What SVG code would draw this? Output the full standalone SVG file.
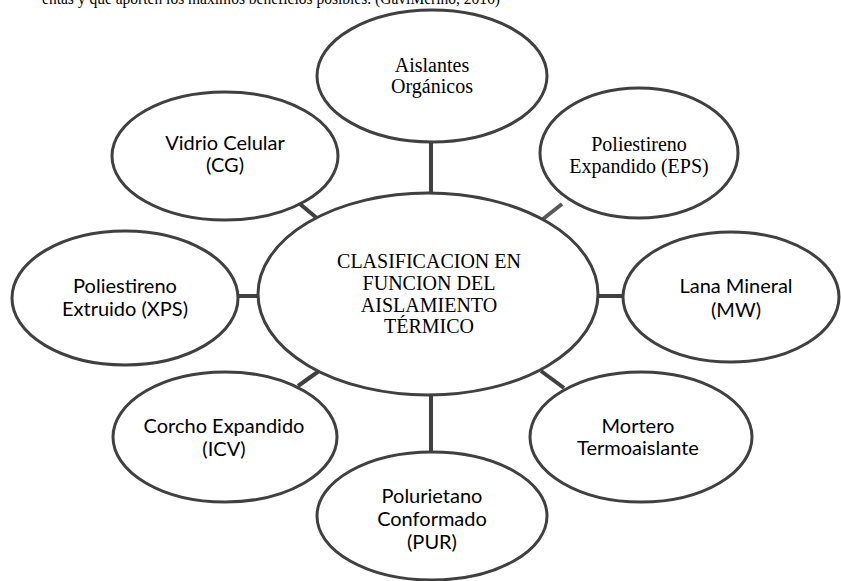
<svg xmlns="http://www.w3.org/2000/svg" width="841" height="581" viewBox="0 0 841 581">
<style>
.n{fill:#fff;stroke:#404040;stroke-width:3}
.c{stroke:#404040;stroke-width:4;fill:none}
.serif{font-family:"Liberation Serif","Times New Roman",serif;font-size:20px;fill:#000;text-anchor:middle}
.sans{font-family:Lato,"Liberation Sans",sans-serif;font-size:20px;fill:#000;text-anchor:middle}
</style>
<rect width="841" height="581" fill="#fff"/>
<text x="42" y="4" font-family="Liberation Serif, serif" font-size="16" textLength="458" lengthAdjust="spacingAndGlyphs">entas y que aporten los máximos beneficios posibles. (GaviMerino, 2016)</text>
<g id="connectors">
<line class="c" x1="431" y1="140" x2="431" y2="195"/>
<line class="c" x1="300" y1="204" x2="318" y2="219"/>
<line class="c" x1="562" y1="204" x2="543" y2="219" style="stroke:#5a5a5a"/>
<line class="c" x1="236" y1="296" x2="260" y2="296"/>
<line class="c" x1="596" y1="296" x2="625" y2="296"/>
<line class="c" x1="298" y1="386" x2="319" y2="371"/>
<line class="c" x1="541" y1="371" x2="564" y2="388"/>
<line class="c" x1="431" y1="393" x2="431" y2="454"/>
</g>
<g id="center">
<ellipse class="n" cx="428" cy="294" rx="170" ry="101"/>
<text class="serif"><tspan x="429" y="268">CLASIFICACION EN</tspan><tspan x="429" y="290">FUNCION DEL</tspan><tspan x="429" y="312">AISLAMIENTO</tspan><tspan x="429" y="333">TÉRMICO</tspan></text>
</g>
<g id="aislantes">
<ellipse class="n" cx="432" cy="76" rx="115" ry="66"/>
<text class="serif"><tspan x="432" y="72">Aislantes</tspan><tspan x="432" y="93">Orgánicos</tspan></text>
</g>
<g id="vidrio">
<ellipse class="n" cx="225" cy="156" rx="113" ry="64"/>
<text class="sans"><tspan x="225" y="150">Vidrio Celular</tspan><tspan x="225" y="172">(CG)</tspan></text>
</g>
<g id="eps">
<ellipse class="n" cx="639" cy="153" rx="99" ry="65"/>
<text class="serif"><tspan x="639" y="151">Poliestireno</tspan><tspan x="639" y="173">Expandido (EPS)</tspan></text>
</g>
<g id="xps">
<ellipse class="n" cx="125" cy="298" rx="113" ry="67"/>
<text class="sans"><tspan x="125" y="293">Poliestireno</tspan><tspan x="125" y="316">Extruido (XPS)</tspan></text>
</g>
<g id="lana">
<ellipse class="n" cx="731" cy="297" rx="108" ry="65"/>
<text class="sans"><tspan x="736" y="293">Lana Mineral</tspan><tspan x="736" y="317">(MW)</tspan></text>
</g>
<g id="corcho">
<ellipse class="n" cx="225" cy="437" rx="112" ry="65"/>
<text class="sans"><tspan x="224" y="433">Corcho Expandido</tspan><tspan x="224" y="456">(ICV)</tspan></text>
</g>
<g id="mortero">
<ellipse class="n" cx="641" cy="437" rx="111" ry="65"/>
<text class="sans"><tspan x="638" y="433">Mortero</tspan><tspan x="638" y="455">Termoaislante</tspan></text>
</g>
<g id="pur">
<ellipse class="n" cx="432" cy="516" rx="115" ry="64"/>
<text class="sans"><tspan x="432" y="503">Polurietano</tspan><tspan x="432" y="526">Conformado</tspan><tspan x="432" y="549">(PUR)</tspan></text>
</g>
</svg>
